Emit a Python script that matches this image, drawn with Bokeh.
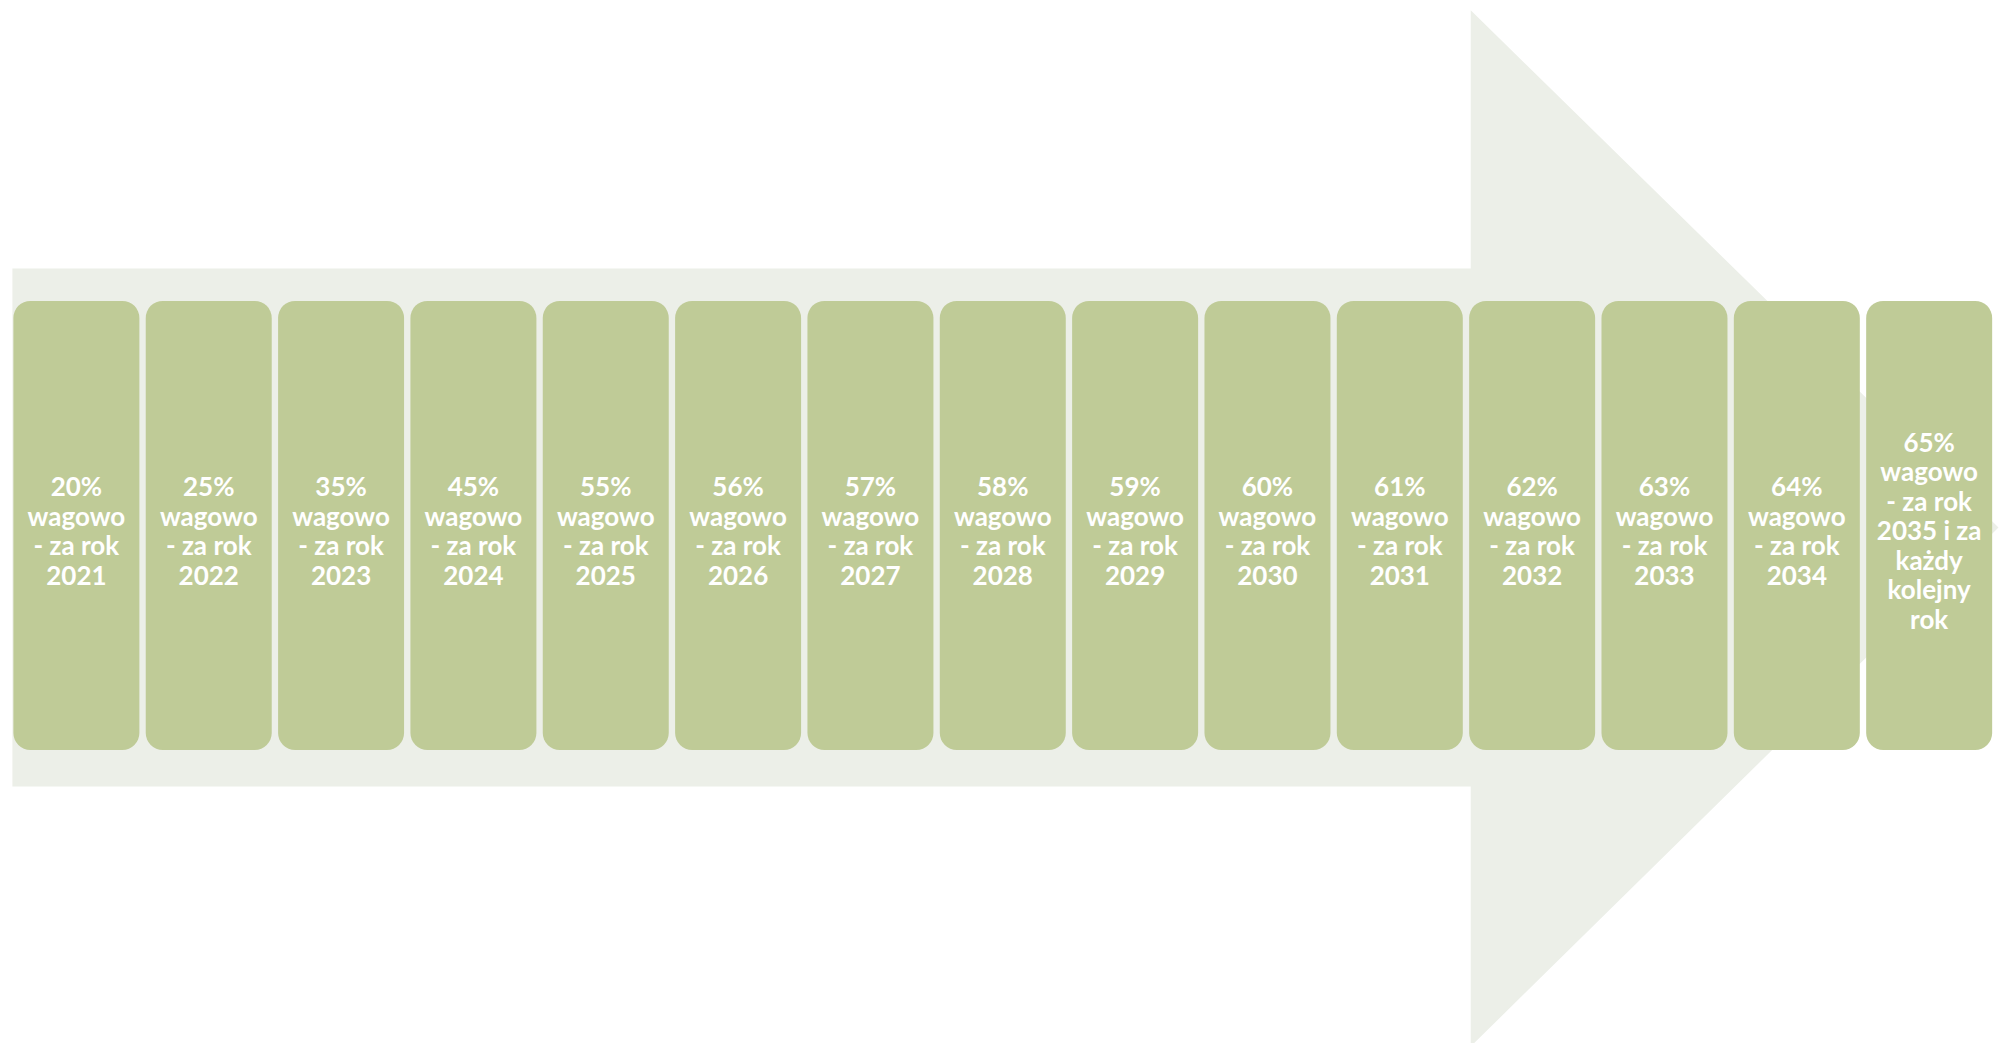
from bokeh.plotting import figure
from bokeh.models import Range1d, ColumnDataSource
from bokeh.core.properties import value
from bokeh.embed import file_html
from bokeh.resources import INLINE

# ---- data ----
percents = [20, 25, 35, 45, 55, 56, 57, 58, 59, 60, 61, 62, 63, 64, 65]
years = [2021, 2022, 2023, 2024, 2025, 2026, 2027, 2028, 2029, 2030,
         2031, 2032, 2033, 2034, 2035]
unit = "wagowo"
prefix = "- za rok"
last_suffix = ["i za", "każdy", "kolejny", "rok"]

labels = []
for i, (pc, yr) in enumerate(zip(percents, years)):
    if i == len(years) - 1:
        labels.append(f"{pc}%\n{unit}\n{prefix}\n{yr} {last_suffix[0]}\n" + "\n".join(last_suffix[1:]))
    else:
        labels.append(f"{pc}%\n{unit}\n{prefix}\n{yr}")

# ---- layout ----
W, H = 1999, 1043
p = figure(width=W, height=H, output_backend="svg", toolbar_location=None,
           x_range=Range1d(0, 2015), y_range=Range1d(1059, 0),
           min_border=0)
p.axis.visible = False
p.grid.visible = False
p.outline_line_color = None
p.background_fill_color = "white"
p.border_fill_color = "white"

# arrow background
band_top, band_bot = 272, 798
shoulder_x = 1482
head_top, head_bot = 10, 1062
tip_x = 2014
mid_y = (band_top + band_bot) / 2
p.patch([12, shoulder_x, shoulder_x, tip_x, shoulder_x, shoulder_x, 12],
        [band_top, band_top, head_top, mid_y, head_bot, band_bot, band_bot],
        fill_color="#ECEFE8", line_color=None)

# boxes
n = len(percents)
x0, pitch, bw = 13, 133.4, 127
lefts = [x0 + i * pitch for i in range(n)]
src = ColumnDataSource(dict(
    left=lefts,
    right=[l + bw for l in lefts],
    cx=[l + bw / 2 for l in lefts],
    cy=[538] * n,
    label=labels,
))
p.quad(left="left", right="right", top=305, bottom=761, source=src,
       fill_color="#BFCB97", line_color=None, border_radius=17)

p.text(x="cx", y="cy", text="label", source=src,
       text_color="white", text_font=value("Lato"), text_font_style="bold",
       text_font_size="26px", text_align="center", text_baseline="middle",
       text_line_height=0.92)

open("out.html", "w").write(file_html(p, INLINE))
